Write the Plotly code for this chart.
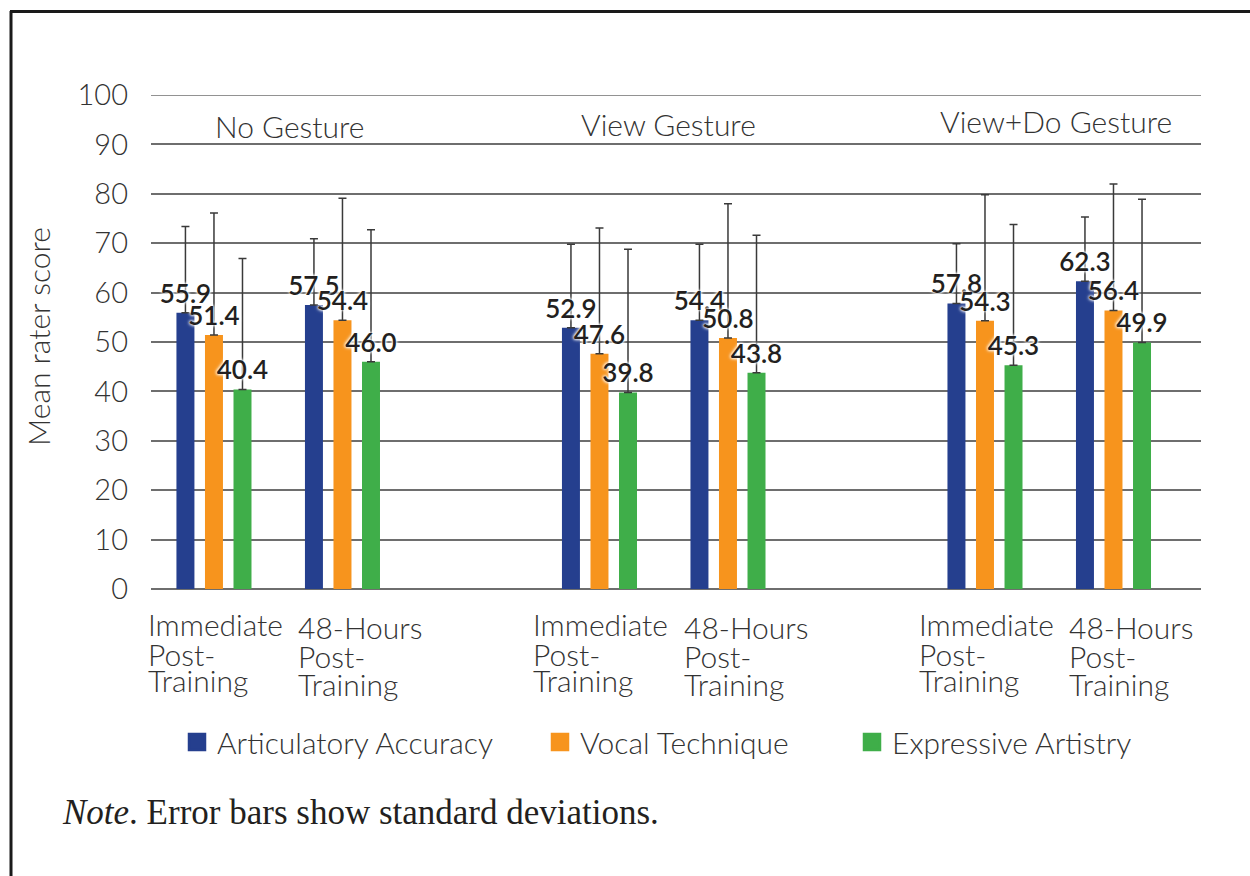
import plotly.graph_objects as go

# ---- data -------------------------------------------------------------
groups = ["No Gesture", "View Gesture", "View+Do Gesture"]
time_labels = [["Immediate", "Post-", "Training"], ["48-Hours", "Post-", "Training"]]
x_pos = [0, 1, 3, 4, 6, 7]          # two time points per group, one empty slot between groups
series_names = ["Articulatory Accuracy", "Vocal Technique", "Expressive Artistry"]

articulatory = [55.9, 57.5, 52.9, 54.4, 57.8, 62.3]
vocal = [51.4, 54.4, 47.6, 50.8, 54.3, 56.4]
expressive = [40.4, 46.0, 39.8, 43.8, 45.3, 49.9]

articulatory_sd = [17.5, 13.4, 16.9, 15.4, 12.1, 13.0]
vocal_sd = [24.7, 24.7, 25.5, 27.2, 25.5, 25.6]
expressive_sd = [26.5, 26.7, 29.0, 27.8, 28.5, 29.0]

y_ticks = [0, 10, 20, 30, 40, 50, 60, 70, 80, 90, 100]

# ---- styling ----------------------------------------------------------
colors = ["#253f8e", "#f7941d", "#3fae49"]
SANS = "Lato"
TXT = "#333333"
GRID = "#6e6e6e"
BAR_W = 0.14
BAR_STEP = 0.222

W, H = 1250, 876
ML, MR, MT, MB = 151, 49, 95, 287
PW, PH = W - ML - MR, H - MT - MB


def px_x(px):
    return (px - ML) / PW


def px_y(py):
    return (H - MB - py) / PH


fig = go.Figure()

values = [articulatory, vocal, expressive]
sds = [articulatory_sd, vocal_sd, expressive_sd]

for i, (name, vals, sd, col) in enumerate(zip(series_names, values, sds, colors)):
    center = (i - 1) * BAR_STEP
    fig.add_trace(go.Bar(
        x=x_pos, y=vals, width=BAR_W, offset=center - BAR_W / 2,
        marker=dict(color=col, line=dict(width=0)),
        error_y=dict(type="data", array=sd, symmetric=False, arrayminus=[0] * len(sd),
                     color="#3a3a3a", thickness=1.5, width=4),
        showlegend=False, hoverinfo="skip",
    ))

# value labels on top of the bars (invisible marker keeps a small gap above the bar)
for i, vals in enumerate(values):
    center = (i - 1) * BAR_STEP
    fig.add_trace(go.Scatter(
        x=[p + center for p in x_pos], y=vals, mode="markers+text",
        marker=dict(size=4, opacity=0),
        text=[f"{v:.1f}" for v in vals], textposition="top center",
        textfont=dict(family=SANS, size=26, color="#231f20", weight=600,
                      shadow="0 0 3px white, 0 0 3px white, 0 0 4px white"),
        cliponaxis=False, showlegend=False, hoverinfo="skip",
    ))

# legend entries (one legend per series so they can be spaced freely)
legend_ids = ["legend", "legend2", "legend3"]
for name, col, lid in zip(series_names, colors, legend_ids):
    fig.add_trace(go.Scatter(
        x=[None], y=[None], mode="markers", name=name, legend=lid,
        marker=dict(symbol="square", size=16, color=col, line=dict(color=col, width=2.5)),
    ))

legend_font = dict(family=SANS, size=30, color=TXT, weight=300)
leg_common = dict(orientation="h", font=legend_font, bgcolor="rgba(0,0,0,0)",
                  xanchor="left", yanchor="middle", itemsizing="trace")

annotations = []

# group headings
group_x = [0.59, 3.54, 6.55]
group_y = [128, 126, 123]
for g, gx, gy in zip(groups, group_x, group_y):
    annotations.append(dict(x=gx, xref="x", y=px_y(gy - 2), yref="paper", text=g,
                            showarrow=False, xanchor="center", yanchor="middle",
                            font=dict(family=SANS, size=30, color=TXT, weight=300)))

# time point labels under each pair of clusters
line_y = [[626, 656, 682], [629, 658, 686]]
shift = [-68, -46]
for k, p in enumerate(x_pos):
    t = k % 2
    for line, ly in zip(time_labels[t], line_y[t]):
        annotations.append(dict(x=p, xref="x", xshift=shift[t], xanchor="left",
                                y=px_y(ly - 2), yref="paper", yanchor="middle",
                                text=line, showarrow=False,
                                font=dict(family=SANS, size=30, color=TXT, weight=300)))

# y-axis title
annotations.append(dict(x=px_x(38), xref="paper", y=px_y(337), yref="paper",
                        text="Mean rater score", textangle=-90, showarrow=False,
                        xanchor="center", yanchor="middle",
                        font=dict(family=SANS, size=30, color=TXT, weight=300)))

# note
annotations.append(dict(x=px_x(60), xref="paper", y=px_y(812), yref="paper",
                        text="<i>Note</i>. Error bars show standard deviations.",
                        showarrow=False, xanchor="left", yanchor="middle",
                        font=dict(family="Liberation Serif", size=35, color="#231f20")))

shapes = [
    # top grid line at the upper end of the value axis
    dict(type="line", xref="paper", yref="y", x0=0, x1=1, y0=100, y1=100,
         line=dict(color=GRID, width=1.5), layer="below"),
    # outer frame (left and top rules)
    dict(type="line", xref="paper", yref="paper", x0=px_x(11), x1=px_x(11),
         y0=px_y(11), y1=px_y(H + 2), line=dict(color="#1a1a1a", width=3)),
    dict(type="line", xref="paper", yref="paper", x0=px_x(10), x1=px_x(W + 2),
         y0=px_y(11.5), y1=px_y(11.5), line=dict(color="#1a1a1a", width=3)),
]

fig.update_layout(
    width=W, height=H,
    margin=dict(l=ML, r=MR, t=MT, b=MB, autoexpand=False),
    paper_bgcolor="white", plot_bgcolor="white",
    barmode="overlay",
    xaxis=dict(range=[-0.49, 7.681], showgrid=False, showticklabels=False,
               zeroline=False, showline=False, fixedrange=True),
    yaxis=dict(range=[0, 100], tickvals=y_ticks, ticktext=[str(v) for v in y_ticks],
               showgrid=True, gridcolor=GRID, gridwidth=1.5,
               zeroline=True, zerolinecolor=GRID, zerolinewidth=1.5,
               showline=False, ticks="", ticklabelstandoff=22,
               tickfont=dict(family=SANS, size=29, color=TXT, weight=300)),
    legend=dict(x=px_x(177), y=px_y(742), **leg_common),
    legend2=dict(x=px_x(540), y=px_y(742), **leg_common),
    legend3=dict(x=px_x(852), y=px_y(742), **leg_common),
    annotations=annotations,
    shapes=shapes,
    showlegend=True,
)

fig.write_html("out.html")
